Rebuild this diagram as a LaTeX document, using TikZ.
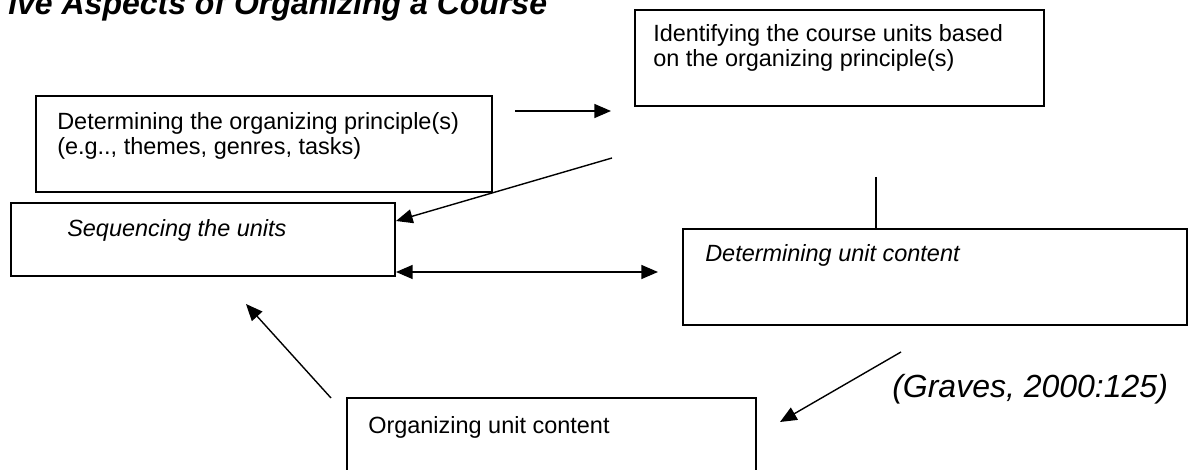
\documentclass[tikz,border=0pt]{standalone}
\usepackage{fontspec}
\setmainfont{Liberation Sans}
\usetikzlibrary{arrows.meta}
\begin{document}
\begin{tikzpicture}[x=0.75pt,y=-0.75pt,
  box/.style={draw=black,line width=1.2pt,rectangle,inner sep=0pt,outer sep=0pt,anchor=north west,fill=white},
  txt/.style={anchor=base west,inner sep=0pt,font=\fontsize{17.6pt}{18.75pt}\selectfont,align=left},
  itxt/.style={txt,font=\fontsize{17.6pt}{18.75pt}\selectfont\itshape},
  conn/.style={line width=1.05pt},
  arr/.style={conn,-{Triangle[length=12.5pt,width=10.5pt]}},
  darr/.style={conn,{Triangle[length=12.5pt,width=10.5pt]}-{Triangle[length=12.5pt,width=10.5pt]}}]
\useasboundingbox (0,0) rectangle (1190,470);
\clip (0,0) rectangle (1190,470);
\fill[white] (0,0) rectangle (1190,470);
% title
\node[anchor=base west,inner sep=0pt,font=\fontsize{24pt}{28pt}\selectfont\bfseries\itshape] (title) at (8,15) {ive Aspects of Organizing a Course};
% boxes
\node[box,minimum width=342pt,minimum height=72pt] (A) at (36,96) {};
\node[box,minimum width=306.75pt,minimum height=72pt] (B) at (635,10) {};
\node[box,minimum width=288pt,minimum height=54.75pt] (C) at (11,203) {};
\node[box,minimum width=378pt,minimum height=72pt] (D) at (683,229) {};
\node[box,minimum width=306.75pt,minimum height=69pt] (E) at (347,398) {};
% texts (base = baseline of the last line)
\node[txt] (At) at (57,155) {Determining the organizing principle(s)\\(e.g.., themes, genres, tasks)};
\node[txt] (Bt) at (653,67) {Identifying the course units based\\on the organizing principle(s)};
\node[itxt] (Ct) at (67,237) {Sequencing the units};
\node[itxt] (Dt) at (705,262) {Determining unit content};
\node[txt] (Et) at (368,434) {Organizing unit content};
\node[anchor=base west,inner sep=0pt,font=\fontsize{24pt}{28pt}\selectfont\itshape] (G) at (892,398) {(Graves, 2000:125)};
% connector end points
\coordinate (a1) at (515,111);
\coordinate (b1) at (611,111);
\coordinate (b2) at (612,158);
\coordinate (c1) at (396,221);
\coordinate (c2) at (396,272);
\coordinate (d1) at (658,272);
\coordinate (v1) at (876,177);
\coordinate (v2) at (876,229);
\coordinate (e1) at (331,398);
\coordinate (s1) at (246,304);
\coordinate (d2) at (901,352);
\coordinate (e2) at (780,422);
% connectors
\draw[arr] (a1) -- (b1);
\draw[arr] (b2) -- (c1);
\draw[darr] (c2) -- (d1);
\draw[conn] (v1) -- (v2);
\draw[arr] (e1) -- (s1);
\draw[arr] (d2) -- (e2);
\end{tikzpicture}
\end{document}
